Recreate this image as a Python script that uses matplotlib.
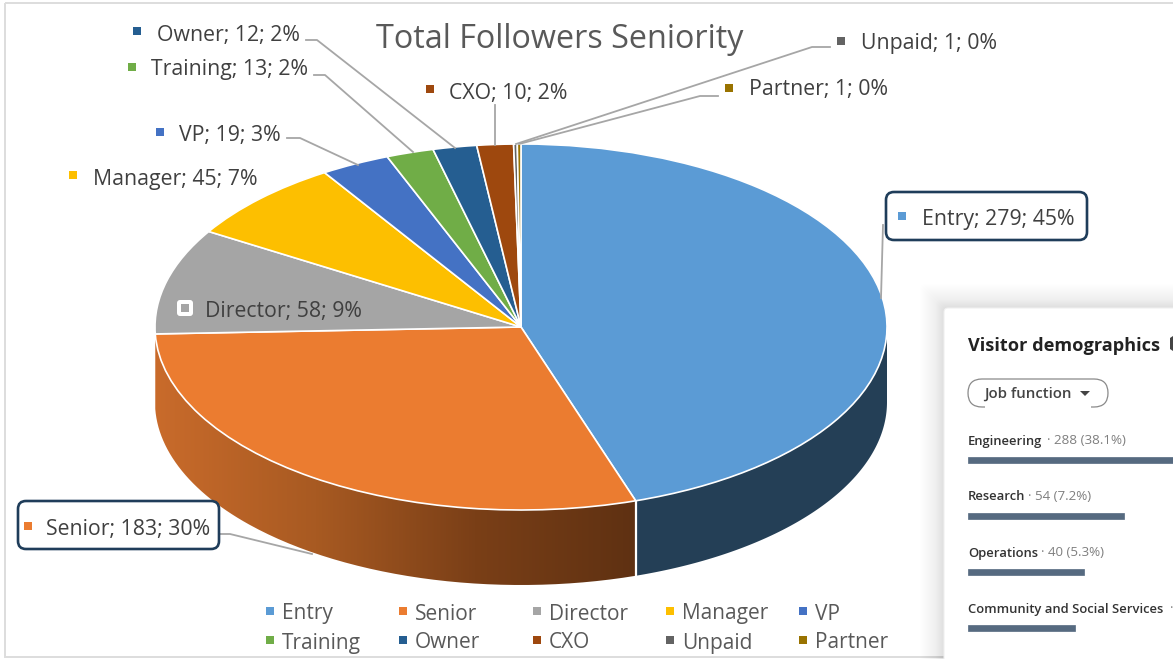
import numpy as np
import matplotlib
matplotlib.use("Agg")
import matplotlib.pyplot as plt
from matplotlib.colors import LinearSegmentedColormap
from matplotlib.patches import FancyBboxPatch, PathPatch, Polygon, Rectangle
from matplotlib.path import Path

W, H = 1173, 659

names = ["Entry", "Senior", "Director", "Manager", "VP", "Training", "Owner", "CXO", "Unpaid", "Partner"]
counts = [279, 183, 58, 45, 19, 13, 12, 10, 1, 1]
percents = [45, 30, 9, 7, 3, 2, 2, 2, 0, 0]
colors = ["#5B9BD5", "#EB7C30", "#A5A5A5", "#FDBF00", "#4472C4",
          "#70AD47", "#255E91", "#9E480E", "#636363", "#997300"]

panel_names = ["Engineering", "Research", "Operations", "Community and Social Services"]
panel_values = [288, 54, 40, 37]
panel_notes = ["· 288 (38.1%)", "· 54 (7.2%)", "· 40 (5.3%)", "·"]

plt.rcParams["font.family"] = ["Open Sans", "DejaVu Sans"]
TEXT = "#404040"
LEADER = "#A6A6A6"
BOX = "#1F3D5A"
LABEL_SIZE = 15.3


def px_axes(left, top, right, bottom, **kw):
    return fig.add_axes([left / W, 1 - bottom / H, (right - left) / W, (bottom - top) / H], **kw)


fig = plt.figure(figsize=(W / 100, H / 100), dpi=100, facecolor="white")

# pie: unit circle squashed by the axes box, side wall hangs below it
depth = 75 / 183
ax = px_axes(155, 144, 887, 585)
wedges, _ = ax.pie(counts, colors=colors, startangle=90, counterclock=False,
                   wedgeprops=dict(edgecolor="white", linewidth=1.2))
for w in wedges:
    w.set_zorder(3)
    w.set_clip_on(False)

angles = np.cumsum([0] + counts) / sum(counts) * 2 * np.pi


def wall(a, b):
    t = np.linspace(a, min(b, 1.5 * np.pi), 150)
    top = np.c_[np.sin(t), np.cos(t)]
    low = np.c_[np.sin(t[::-1]), np.cos(t[::-1]) - depth]
    return np.r_[top, low]


# Entry wall
ax.add_patch(Polygon(wall(np.pi / 2, angles[1]), closed=True, fc="#243F56", ec="none", zorder=1))

# Senior wall, dark towards the front right
ramp = LinearSegmentedColormap.from_list("wall", ["#5F3112", "#7A3F17", "#A85A22", "#C96B2B"])
im = ax.imshow(np.linspace(0, 1, 256)[::-1].reshape(1, -1), cmap=ramp, aspect="auto",
               extent=(-1, np.sin(angles[1]), -1 - depth, 1), zorder=1)
im.set_clip_path(PathPatch(Path(wall(angles[1], angles[2])), transform=ax.transData))

# white seam between the two walls
sx, sy = np.sin(angles[1]), np.cos(angles[1])
ax.plot([sx, sx], [sy, sy - depth], color="white", lw=1.6, zorder=2)

ax.set_aspect("auto")
ax.set_xlim(-1, 1)
ax.set_ylim(-1 - depth, 1)
ax.axis("off")

# everything else sits on a pixel grid
pa = fig.add_axes([0, 0, 1, 1], zorder=5)
pa.set_xlim(0, W)
pa.set_ylim(H, 0)
pa.axis("off")
pa.patch.set_alpha(0)

# screenshot frame
pa.add_patch(Rectangle((5, 3), W + 20, 654, fc="none", ec="#DDDDDD", lw=1.4, zorder=0))

# leader lines
leaders = [
    ([306, 317, 455], [40, 40, 148]),
    ([314, 325, 413], [75, 75, 152]),
    ([287, 300, 358], [138, 138, 165]),
    ([495, 495], [105, 145]),
    ([830, 812, 516], [47, 47, 144]),
    ([718, 700, 519], [96, 96, 144]),
    ([883, 881], [225, 298]),
    ([220, 230, 312], [534, 534, 554]),
]
for xs, ys in leaders:
    pa.plot(xs, ys, color=LEADER, lw=1.3, zorder=2)

# boxed callouts
for x0, y0 in [(886, 192), (18, 501)]:
    pa.add_patch(FancyBboxPatch((x0, y0), 201, 48, boxstyle="round,pad=0,rounding_size=8",
                                fc="white", ec=BOX, lw=1.9, zorder=3))

# data labels: text x, text y, marker x, marker y
label_pos = [(922, 219, 902, 216), (46, 529, 28, 526), (205, 311, 185, 308), (93, 179, 73, 175),
             (179, 135, 160, 132), (151, 70, 132, 67), (157, 35, 137, 31), (449, 93, 430, 89),
             (861, 44, 841, 41), (749, 90, 729, 88)]
for i, (tx, ty, mx, my) in enumerate(label_pos):
    pa.text(tx, ty, f"{names[i]}; {counts[i]}; {percents[i]}%", color=TEXT, fontsize=LABEL_SIZE,
            va="center", ha="left", zorder=4)
    if names[i] == "Director":
        pa.add_patch(FancyBboxPatch((mx - 8, my - 8), 16, 16, boxstyle="round,pad=0,rounding_size=3",
                                    fc="white", ec="none", zorder=4))
    pa.add_patch(Rectangle((mx - 4, my - 4), 8, 8, fc=colors[i], ec="none", zorder=4))

pa.text(559.5, 40, "Total Followers Seniority", color="#595959", fontsize=23.3,
        ha="center", va="center", zorder=4)

# legend
leg_x = [270, 403, 537, 670, 803]
leg_y = [614, 643]
for i, name in enumerate(names):
    lx, ly = leg_x[i % 5], leg_y[i // 5]
    pa.add_patch(Rectangle((lx - 4, ly - 7), 8, 8, fc=colors[i], ec="none", zorder=4))
    pa.text(lx + 12, ly, name, color="#595959", fontsize=15, va="center", ha="left", zorder=4)

# pasted card on the right with soft shadow
for k in range(24, 0, -1):
    pa.add_patch(FancyBboxPatch((944 - k, 308 - k), 300, 400, boxstyle="round,pad=0,rounding_size=5",
                                fc="#000000", alpha=0.0025 if k > 8 else 0.008, ec="none", zorder=5))
pa.add_patch(FancyBboxPatch((944, 308), 300, 400, boxstyle="round,pad=0,rounding_size=4",
                            fc="white", ec="#F0F0F0", lw=0.8, zorder=6))
pa.set_xlim(0, W)
pa.set_ylim(H, 0)

pa.text(968, 346, "Visitor demographics", color="#222222", fontsize=13.1, fontweight="bold",
        va="center", zorder=7)
pa.add_patch(Polygon([(1170, 338), (1173, 336), (1173, 351), (1170, 349)], closed=True,
                     fc="#444444", ec="none", zorder=7))
pa.add_patch(FancyBboxPatch((968, 379), 140, 28, boxstyle="round,pad=0,rounding_size=14",
                            fc="white", ec="#8A8A8A", lw=0.9, zorder=7))
# bottom of the pill is washed out in the screenshot
pa.add_patch(Rectangle((985, 405), 106, 4, fc="white", ec="none", zorder=7))
pa.text(984, 394, "Job function", color="#444444", fontsize=10.8, fontweight="semibold",
        va="center", zorder=8)
pa.add_patch(Polygon([(1080, 391), (1090, 391), (1085, 396)], closed=True, fc="#444444", ec="none", zorder=8))

row_y = [441, 497, 553, 609]
note_x = [1047, 1028, 1041, 1170]
for i, name in enumerate(panel_names):
    pa.text(968, row_y[i], name, color="#333333", fontsize=9.4, fontweight="semibold",
            va="center", zorder=7, clip_on=True)
    pa.text(note_x[i], row_y[i], panel_notes[i], color="#7F7F7F", fontsize=9.6,
            va="center", zorder=7, clip_on=True)

# panel bars, 54 -> 156 px
bar_ax = px_axes(968, 440, W, 640, zorder=7)
bar_ax.barh([i for i in range(4)], panel_values, height=0.115, color="#566A80",
            edgecolor="#566A80", linewidth=0.5)
bar_ax.set_xlim(0, (W - 968) * 54 / 156)
bar_ax.set_ylim(3.21, -0.36)
bar_ax.axis("off")

fig.savefig("out.png", dpi=100)
